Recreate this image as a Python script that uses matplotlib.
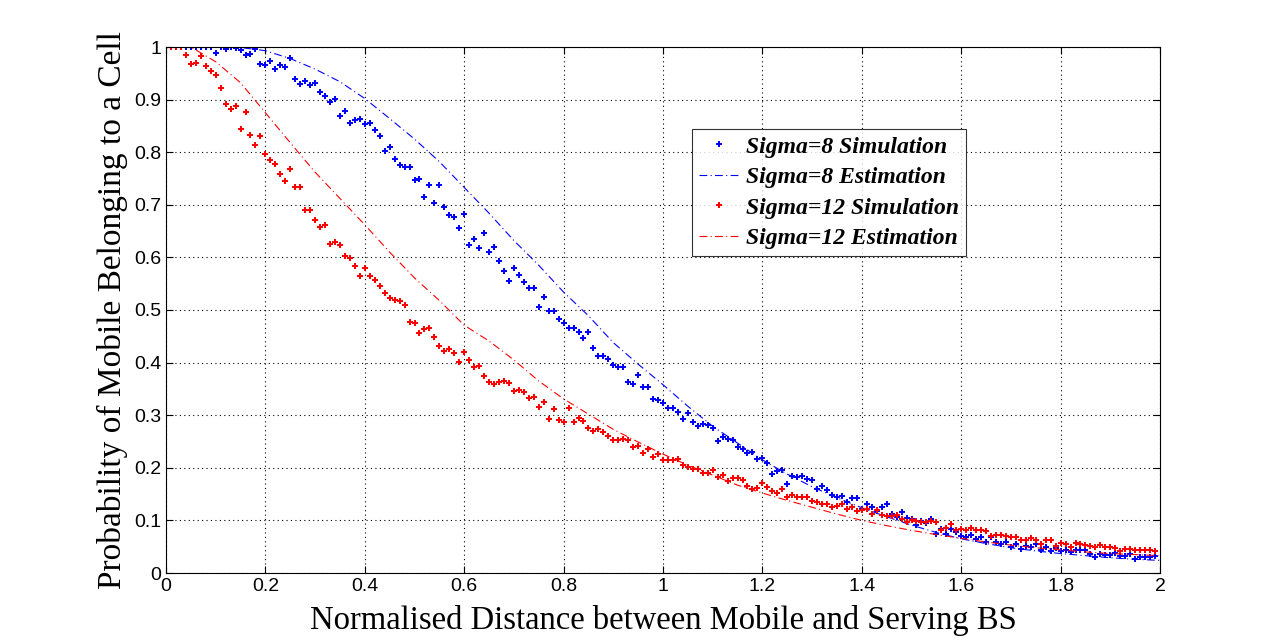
import numpy as np
import matplotlib
matplotlib.use("Agg")
import matplotlib.pyplot as plt
from matplotlib.ticker import FormatStrFormatter

# simulated points, one every 0.01 starting at 0.01
sim8 = [
    1, 1, 1, 1, 1, 1, 1, 1, 1, 0.988,
    1.0, 0.997, 1.0, 0.998, 0.995, 0.985, 0.987, 0.996, 0.968, 0.965,
    0.973, 0.959, 0.966, 0.962, 0.979, 0.939, 0.929, 0.935, 0.928, 0.931,
    0.914, 0.906, 0.895, 0.902, 0.868, 0.879, 0.855, 0.862, 0.864, 0.853,
    0.855, 0.843, 0.830, 0.802, 0.809, 0.788, 0.776, 0.771, 0.771, 0.748,
    0.750, 0.715, 0.737, 0.703, 0.737, 0.696, 0.681, 0.676, 0.655, 0.683,
    0.624, 0.635, 0.617, 0.646, 0.610, 0.620, 0.593, 0.574, 0.556, 0.579,
    0.566, 0.553, 0.541, 0.541, 0.505, 0.524, 0.498, 0.498, 0.482, 0.475,
    0.466, 0.466, 0.459, 0.446, 0.458, 0.427, 0.413, 0.413, 0.406, 0.395,
    0.392, 0.391, 0.364, 0.359, 0.376, 0.354, 0.354, 0.330, 0.328, 0.323,
    0.313, 0.313, 0.306, 0.292, 0.304, 0.287, 0.279, 0.283, 0.281, 0.275,
    0.251, 0.259, 0.255, 0.252, 0.240, 0.235, 0.229, 0.230, 0.216, 0.218,
    0.210, 0.188, 0.194, 0.196, 0.169, 0.185, 0.183, 0.185, 0.179, 0.177,
    0.159, 0.165, 0.158, 0.148, 0.145, 0.146, 0.135, 0.143, 0.143, 0.122,
    0.131, 0.126, 0.118, 0.126, 0.131, 0.113, 0.107, 0.116, 0.104, 0.103,
    0.091, 0.098, 0.095, 0.102, 0.075, 0.084, 0.075, 0.083, 0.078, 0.070,
    0.069, 0.072, 0.064, 0.068, 0.058, 0.068, 0.058, 0.056, 0.058, 0.050,
    0.055, 0.045, 0.052, 0.050, 0.055, 0.044, 0.050, 0.041, 0.047, 0.041,
    0.043, 0.039, 0.044, 0.044, 0.043, 0.036, 0.030, 0.036, 0.034, 0.034,
    0.038, 0.032, 0.032, 0.036, 0.027, 0.030, 0.030, 0.030, 0.032,
]
sim12 = [
    1, 1, 1, 0.985, 0.968, 0.969, 0.982, 0.964, 0.954, 0.947,
    0.923, 0.892, 0.882, 0.888, 0.845, 0.876, 0.833, 0.813, 0.830, 0.797,
    0.785, 0.777, 0.758, 0.745, 0.768, 0.734, 0.734, 0.690, 0.690, 0.672,
    0.657, 0.662, 0.625, 0.629, 0.623, 0.603, 0.598, 0.584, 0.565, 0.579,
    0.565, 0.557, 0.546, 0.532, 0.522, 0.519, 0.517, 0.510, 0.477, 0.475,
    0.456, 0.464, 0.466, 0.449, 0.432, 0.422, 0.426, 0.418, 0.402, 0.420,
    0.405, 0.391, 0.394, 0.375, 0.363, 0.359, 0.363, 0.365, 0.362, 0.346,
    0.348, 0.344, 0.332, 0.334, 0.316, 0.325, 0.293, 0.311, 0.291, 0.287,
    0.313, 0.287, 0.295, 0.289, 0.275, 0.270, 0.273, 0.268, 0.260, 0.253,
    0.253, 0.255, 0.253, 0.240, 0.241, 0.229, 0.235, 0.220, 0.226, 0.215,
    0.215, 0.214, 0.216, 0.205, 0.202, 0.198, 0.197, 0.190, 0.191, 0.196,
    0.183, 0.186, 0.174, 0.180, 0.181, 0.176, 0.165, 0.159, 0.162, 0.171,
    0.163, 0.156, 0.153, 0.159, 0.145, 0.148, 0.145, 0.144, 0.144, 0.136,
    0.135, 0.131, 0.131, 0.125, 0.127, 0.131, 0.121, 0.126, 0.118, 0.119,
    0.122, 0.112, 0.119, 0.110, 0.109, 0.109, 0.110, 0.103, 0.097, 0.101,
    0.099, 0.097, 0.097, 0.098, 0.097, 0.082, 0.086, 0.093, 0.082, 0.083,
    0.082, 0.085, 0.082, 0.081, 0.079, 0.070, 0.072, 0.072, 0.071, 0.068,
    0.068, 0.063, 0.062, 0.067, 0.063, 0.055, 0.063, 0.062, 0.051, 0.057,
    0.056, 0.050, 0.057, 0.055, 0.053, 0.052, 0.050, 0.053, 0.050, 0.049,
    0.047, 0.042, 0.045, 0.045, 0.044, 0.044, 0.043, 0.043, 0.041,
]

# estimation curves, read every 0.05
est_x = [0, 0.05, 0.1, 0.15, 0.2, 0.25, 0.3, 0.35, 0.4, 0.45,
         0.5, 0.55, 0.6, 0.65, 0.7, 0.75, 0.8, 0.85, 0.9, 0.95,
         1.0, 1.05, 1.1, 1.15, 1.2, 1.25, 1.3, 1.35, 1.4, 1.45,
         1.5, 1.55, 1.6, 1.65, 1.7, 1.75, 1.8, 1.85, 1.9, 1.95, 2.0]
est8 = [1, 1, 1, 0.999, 0.993, 0.978, 0.958, 0.934, 0.902, 0.864,
        0.825, 0.782, 0.733, 0.684, 0.632, 0.585, 0.534, 0.489, 0.438, 0.397,
        0.358, 0.317, 0.279, 0.247, 0.215, 0.188, 0.164, 0.143, 0.124, 0.107,
        0.091, 0.077, 0.065, 0.056, 0.048, 0.042, 0.037, 0.033, 0.029, 0.026, 0.024]
est12 = [1, 1.0, 0.972, 0.932, 0.875, 0.818, 0.762, 0.712, 0.662, 0.610,
         0.561, 0.518, 0.471, 0.441, 0.405, 0.365, 0.331, 0.302, 0.273, 0.249,
         0.226, 0.205, 0.186, 0.167, 0.152, 0.138, 0.125, 0.112, 0.100, 0.090,
         0.081, 0.073, 0.066, 0.059, 0.053, 0.048, 0.044, 0.040, 0.037, 0.035, 0.033]

x8 = np.arange(1, len(sim8) + 1) / 100
x12 = np.arange(1, len(sim12) + 1) / 100

fig = plt.figure(figsize=(12.8, 6.44), dpi=100)
ax = fig.add_axes([166 / 1280, 1 - 573 / 644, (1160 - 166) / 1280, (573 - 47) / 644])

blue = "#0000ff"
red = "#ff0000"
ax.plot(x8, sim8, linestyle="none", marker="P", markersize=4.5, mew=0,
        color=blue, label="Sigma=8 Simulation")
ax.plot(est_x, est8, linestyle=(0, (7, 3, 1, 3)), color=blue, lw=0.8,
        label="Sigma=8 Estimation")
ax.plot(x12, sim12, linestyle="none", marker="P", markersize=4.5, mew=0,
        color=red, label="Sigma=12 Simulation")
ax.plot(est_x, est12, linestyle=(0, (7, 3, 1, 3)), color=red, lw=0.8,
        label="Sigma=12 Estimation")

ax.set_xlim(0, 2)
ax.set_ylim(0, 1)
ax.set_xticks(np.arange(0, 2.01, 0.2))
ax.set_yticks(np.arange(0, 1.01, 0.1))
ax.xaxis.set_major_formatter(FormatStrFormatter("%g"))
ax.yaxis.set_major_formatter(FormatStrFormatter("%g"))
ax.tick_params(direction="in", top=True, right=True, length=5, width=0.8,
               labelsize=14, labelfontfamily="Liberation Sans")
ax.grid(True, color="black", linestyle=(0, (1, 3)), linewidth=0.8)
for s in ax.spines.values():
    s.set_linewidth(0.8)

ax.set_xlabel("Normalised Distance between Mobile and Serving BS",
              family="Liberation Serif", fontsize=23.5, labelpad=7)
ax.set_ylabel("Probability of Mobile Belonging to a Cell",
              family="Liberation Serif", fontsize=24, labelpad=4)

leg = ax.legend(loc="upper left", bbox_to_anchor=(0.5292, 0.844), frameon=True,
                fancybox=False, edgecolor="black", borderpad=0.3,
                labelspacing=0.38, handlelength=1.7, handletextpad=0.3,
                borderaxespad=0,
                prop={"family": "Liberation Serif", "style": "italic",
                      "weight": "bold", "size": 17})
leg.get_frame().set_linewidth(0.8)

fig.savefig("out.png", dpi=100)
